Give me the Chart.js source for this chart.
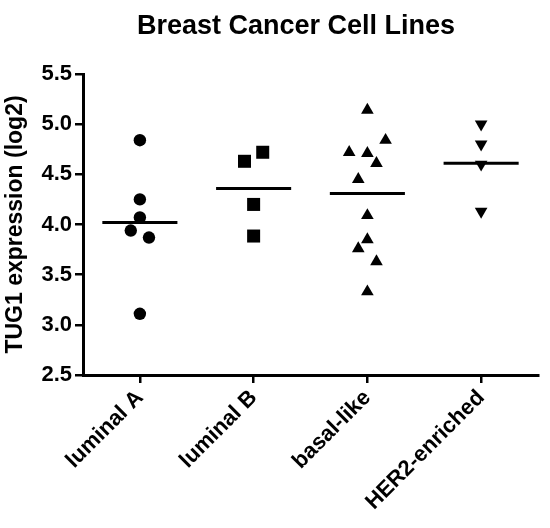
<!DOCTYPE html>
<html>
<head>
<meta charset="utf-8">
<script src="https://cdn.jsdelivr.net/npm/chart.js@4"></script>
<style>
  body { margin: 0; background: #fff; }
  canvas { display: block; }
</style>
</head>
<body>
<canvas id="myChart" width="550" height="528"></canvas>
<script>
const categories = ['luminal A', 'luminal B', 'basal-like', 'HER2-enriched'];

// values (log2 expression), x = category position + jitter
const lumAVals = [4.84, 4.25, 4.07, 3.94, 3.87, 3.11];
const lumAX = [1, 1, 1, 0.92, 1.08, 1];
const lumBVals = [4.72, 4.63, 4.20, 3.885];
const lumBX = [2.08, 1.92, 2, 2];
const basalVals = [5.14, 4.84, 4.72, 4.71, 4.61, 4.45, 4.09, 3.85, 3.76, 3.63, 3.33];
const basalX = [3, 3.16, 2.84, 3, 3.08, 2.92, 3, 3, 2.92, 3.08, 3];
const her2Vals = [5.00, 4.80, 4.60, 4.13];
const her2X = [4, 4, 4, 4];
const means = [4.02, 4.36, 4.31, 4.61];
const yTicks = [2.5, 3.0, 3.5, 4.0, 4.5, 5.0, 5.5];

const ctx = document.getElementById('myChart').getContext('2d');
const FONT = "'Liberation Sans', Arial, sans-serif";

function pts(xs, ys) {
    return ys.map((v, i) => ({x: xs[i], y: v}));
}

const meanSets = means.map((m, i) => ({
    type: 'line',
    data: [{x: i + 1 - 0.33, y: m}, {x: i + 1 + 0.33, y: m}],
    borderColor: '#000',
    borderWidth: 3,
    pointRadius: 0,
    fill: false
}));

const titlePlugin = {
    id: 'topTitle',
    afterDraw(chart) {
        const c = chart.ctx;
        c.save();
        c.font = "bold 27px " + FONT;
        c.fillStyle = '#000';
        c.textAlign = 'center';
        c.textBaseline = 'middle';
        c.fillText('Breast Cancer Cell Lines', 296, 27);
        c.restore();
    }
};

const myChart = new Chart(ctx, {
    type: 'scatter',
    data: {
        datasets: [
            {data: pts(lumAX, lumAVals), pointStyle: 'circle', pointRadius: 6.2},
            {data: pts(lumBX, lumBVals), pointStyle: 'rect', pointRadius: 9.2},
            {data: pts(basalX, basalVals), pointStyle: 'triangle', pointRadius: 7.3},
            {data: pts(her2X, her2Vals), pointStyle: 'triangle', pointRotation: 180, pointRadius: 7.3}
        ].map(d => Object.assign(d, {
            backgroundColor: '#000',
            borderColor: '#000',
            borderWidth: 0,
            pointHoverRadius: d.pointRadius
        })).concat(meanSets)
    },
    options: {
        responsive: false,
        animation: false,
        layout: { padding: {top: 74, right: 12, left: 0, bottom: 0} },
        plugins: {
            legend: { display: false },
            tooltip: { enabled: false }
        },
        scales: {
            x: {
                type: 'linear',
                min: 0.5,
                max: 4.5,
                afterBuildTicks: s => { s.ticks = categories.map((c, i) => ({value: i + 1})); },
                afterFit: s => { s.height = 153; },
                ticks: {
                    autoSkip: false,
                    minRotation: 45,
                    maxRotation: 45,
                    padding: 2,
                    color: '#000',
                    font: {family: FONT, size: 22, weight: 'bold'},
                    callback: (v) => categories[Math.round(v) - 1]
                },
                grid: { drawOnChartArea: false, color: '#000', lineWidth: 2.5, tickLength: 8 },
                border: { color: '#000', width: 3 }
            },
            y: {
                min: 2.5,
                max: 5.5,
                afterBuildTicks: s => { s.ticks = yTicks.map(v => ({value: v})); },
                afterFit: s => { s.width = 83; },
                ticks: {
                    padding: 3,
                    color: '#000',
                    font: {family: FONT, size: 22, weight: 'bold'},
                    callback: v => v.toFixed(1)
                },
                grid: { drawOnChartArea: false, color: '#000', lineWidth: 2.5, tickLength: 8 },
                border: { color: '#000', width: 3 },
                title: {
                    display: true,
                    text: 'TUG1 expression (log2)',
                    color: '#000',
                    font: {family: FONT, size: 23, weight: 'bold'},
                    padding: {top: 2, bottom: 0}
                }
            }
        }
    },
    plugins: [titlePlugin]
});
</script>
</body>
</html>
